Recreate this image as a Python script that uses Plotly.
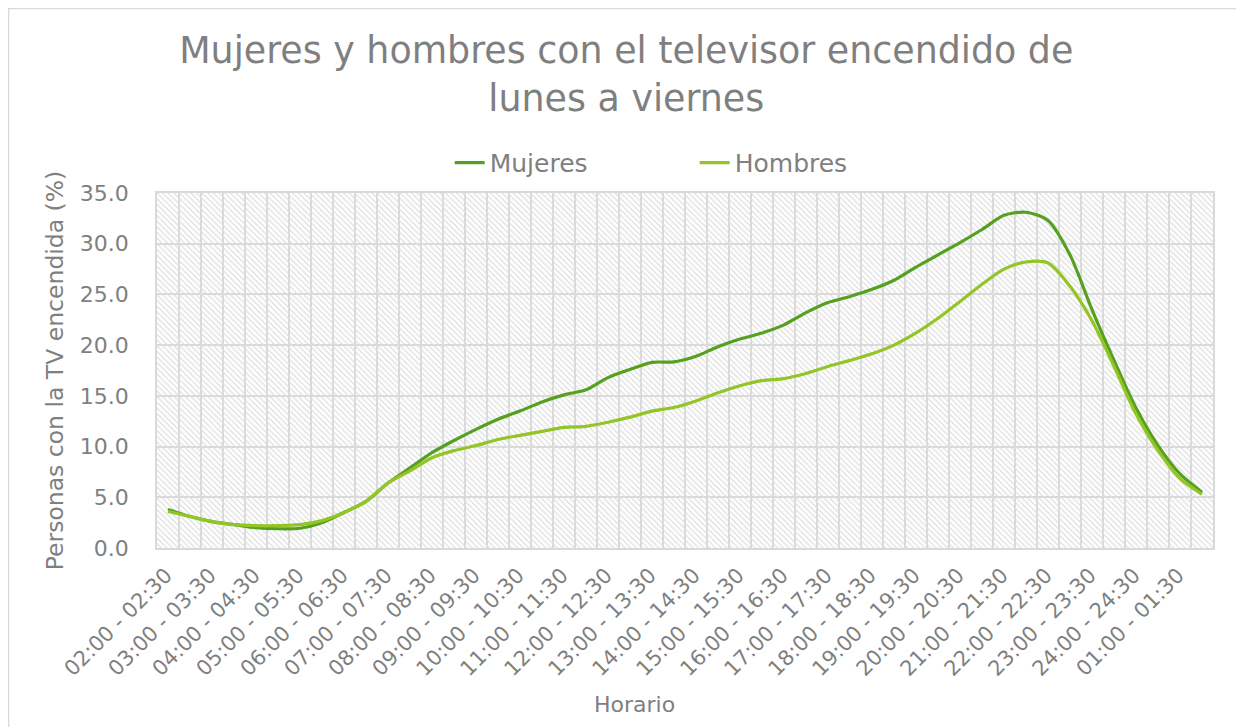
import plotly.graph_objects as go

CATEGORIES = [
    "02:00 - 02:30", "02:30 - 03:00", "03:00 - 03:30", "03:30 - 04:00",
    "04:00 - 04:30", "04:30 - 05:00", "05:00 - 05:30", "05:30 - 06:00",
    "06:00 - 06:30", "06:30 - 07:00", "07:00 - 07:30", "07:30 - 08:00",
    "08:00 - 08:30", "08:30 - 09:00", "09:00 - 09:30", "09:30 - 10:00",
    "10:00 - 10:30", "10:30 - 11:00", "11:00 - 11:30", "11:30 - 12:00",
    "12:00 - 12:30", "12:30 - 13:00", "13:00 - 13:30", "13:30 - 14:00",
    "14:00 - 14:30", "14:30 - 15:00", "15:00 - 15:30", "15:30 - 16:00",
    "16:00 - 16:30", "16:30 - 17:00", "17:00 - 17:30", "17:30 - 18:00",
    "18:00 - 18:30", "18:30 - 19:00", "19:00 - 19:30", "19:30 - 20:00",
    "20:00 - 20:30", "20:30 - 21:00", "21:00 - 21:30", "21:30 - 22:00",
    "22:00 - 22:30", "22:30 - 23:00", "23:00 - 23:30", "23:30 - 24:00",
    "24:00 - 24:30", "24:30 - 01:00", "01:00 - 01:30", "01:30 - 02:00",
]

MUJERES = [
    3.8, 3.1, 2.6, 2.3, 2.0, 1.9, 1.95, 2.5,
    3.5, 4.6, 6.4, 7.9, 9.4, 10.6, 11.7, 12.7,
    13.5, 14.4, 15.1, 15.6, 16.8, 17.6, 18.3, 18.35,
    18.9, 19.85, 20.6, 21.2, 22.0, 23.2, 24.2, 24.8,
    25.5, 26.4, 27.7, 28.9, 30.1, 31.4, 32.8, 33.1,
    32.3, 28.9, 23.5, 18.5, 13.8, 10.1, 7.3, 5.5,
]

HOMBRES = [
    3.6, 3.1, 2.6, 2.3, 2.2, 2.2, 2.3, 2.7,
    3.5, 4.6, 6.4, 7.6, 8.9, 9.6, 10.1, 10.7,
    11.1, 11.5, 11.9, 12.0, 12.4, 12.9, 13.5, 13.85,
    14.5, 15.3, 16.0, 16.5, 16.7, 17.2, 17.9, 18.5,
    19.15, 20.0, 21.2, 22.65, 24.3, 26.0, 27.5, 28.2,
    28.1, 25.8, 22.4, 17.9, 13.2, 9.6, 6.85, 5.3,
]

TICK_TEXT = [c if i % 2 == 0 else "" for i, c in enumerate(CATEGORIES)]
Y_MAX = 35
TITLE = "Mujeres y hombres con el televisor encendido de<br>lunes a viernes"
Y_TITLE = "Personas con la TV encendida (%)"
X_TITLE = "Horario"

FONT = "DejaVu Sans"
GREY = "#7F7F7F"
GRID = "#D9D9D9"

fig = go.Figure()

# hatched plot-area background
fig.add_trace(go.Bar(
    x=CATEGORIES, y=[Y_MAX] * len(CATEGORIES), width=1,
    marker=dict(color="#DEDEDE", line=dict(width=0),
                pattern=dict(shape="\\", size=4, solidity=0.3, fillmode="replace")),
    showlegend=False, hoverinfo="skip",
))

fig.add_trace(go.Scatter(
    x=CATEGORIES, y=MUJERES, name="Mujeres", mode="lines",
    line=dict(color="#55A11F", width=3.2, shape="spline", smoothing=0.8),
))
fig.add_trace(go.Scatter(
    x=CATEGORIES, y=HOMBRES, name="Hombres", mode="lines",
    line=dict(color="#93C526", width=3.2, shape="spline", smoothing=0.8),
))

fig.update_layout(
    width=1244, height=727,
    margin=dict(l=149, r=39, t=185, b=187, autoexpand=False),
    paper_bgcolor="white", plot_bgcolor="white",
    bargap=0,
    font=dict(family=FONT, color=GREY, size=20),
    title=dict(text=TITLE, x=0.497, xref="container", xanchor="center",
               y=0.924, yref="container", yanchor="middle",
               font=dict(size=36.4, color=GREY, family=FONT)),
    legend=dict(orientation="h", x=0.552, xref="container", xanchor="center",
                y=0.787, yref="container", yanchor="middle",
                entrywidth=200, entrywidthmode="pixels",
                font=dict(size=25, color=GREY, family=FONT)),
    shapes=[dict(type="rect", xref="paper", yref="paper",
                 x0=-0.1406, x1=1.1, y0=-0.6, y1=1.5197,
                 line=dict(color=GRID, width=1.5), fillcolor="rgba(0,0,0,0)", layer="below")],
    annotations=[dict(text=X_TITLE, xref="paper", yref="paper", x=0.452, y=-0.442,
                      xanchor="center", yanchor="middle", showarrow=False,
                      font=dict(size=22, color=GREY, family=FONT))],
)

fig.update_xaxes(
    type="category", tickson="boundaries",
    tickmode="array", tickvals=CATEGORIES, ticktext=TICK_TEXT,
    tickangle=-45, ticks="", ticklabelstandoff=5, ticklabelshift=-2,
    tickfont=dict(size=21, color=GREY, family=FONT),
    showgrid=True, gridcolor=GRID, gridwidth=1.5,
    showline=True, linecolor=GRID, linewidth=1.5, mirror=True,
    range=[-0.5, len(CATEGORIES) - 0.5],
)

fig.update_yaxes(
    range=[0, Y_MAX], dtick=5, tickformat=".1f",
    ticks="", ticklabelstandoff=22,
    tickfont=dict(size=22, color=GREY, family=FONT),
    showgrid=True, gridcolor=GRID, gridwidth=1.5,
    showline=True, linecolor=GRID, linewidth=1.5, mirror=True,
    zeroline=False,
    title=dict(text=Y_TITLE, standoff=10, font=dict(size=23.5, color=GREY, family=FONT)),
)

fig.write_html("out.html")
